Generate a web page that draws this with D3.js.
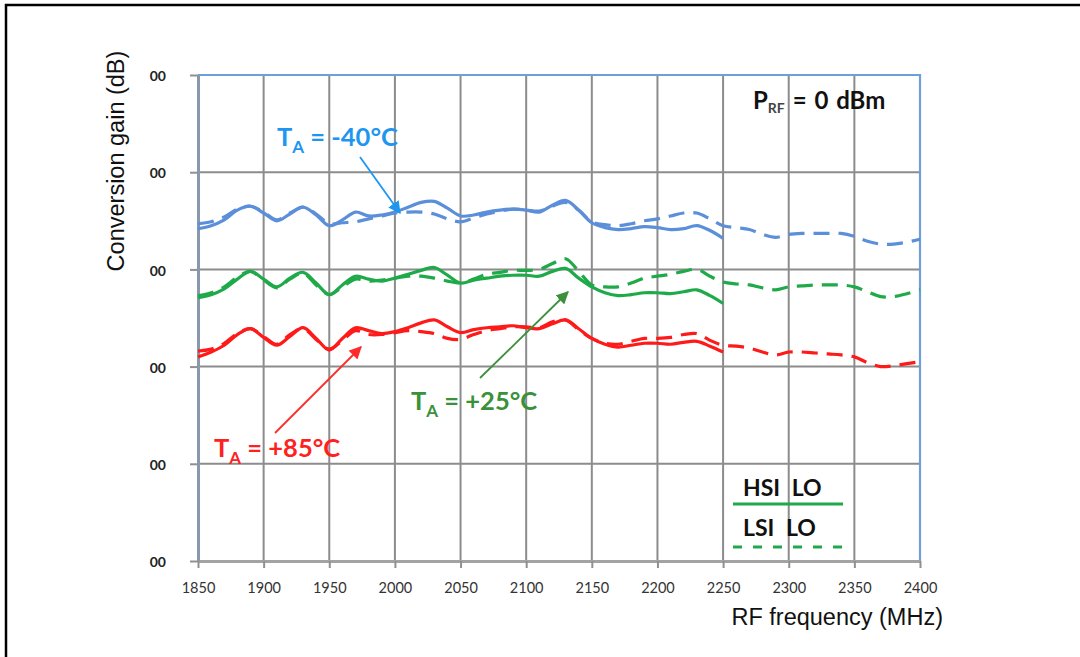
<!DOCTYPE html>
<html><head><meta charset="utf-8">
<script src="https://cdn.jsdelivr.net/npm/d3@7"></script>
<style>body{margin:0;background:#fff}svg{display:block}</style>
</head><body>
<svg id="c" width="1080" height="657"></svg>
<script>
// ---- data ----
const freqLSI = [1850,1860,1870,1880,1890,1900,1910,1920,1930,1940,1950,1960,1970,1980,1990,2000,2010,2020,2030,2040,2050,2060,2070,2080,2090,2100,2110,2120,2130,2140,2150,2160,2170,2180,2190,2200,2210,2220,2230,2240,2250,2260,2270,2280,2290,2300,2310,2320,2330,2340,2350,2360,2370,2380,2390,2400];
const freqHSI = [1850,1860,1870,1880,1890,1900,1910,1920,1930,1940,1950,1960,1970,1980,1990,2000,2010,2020,2030,2040,2050,2060,2070,2080,2090,2100,2110,2120,2130,2140,2150,2160,2170,2180,2190,2200,2210,2220,2230,2240,2250];

const blueHSI = [3.42,3.45,3.51,3.61,3.65,3.58,3.50,3.57,3.64,3.56,3.45,3.51,3.59,3.55,3.56,3.59,3.64,3.69,3.70,3.63,3.55,3.56,3.59,3.61,3.62,3.61,3.59,3.66,3.71,3.61,3.48,3.43,3.41,3.42,3.44,3.43,3.41,3.42,3.45,3.40,3.32];
const blueLSI = [3.47,3.49,3.54,3.62,3.65,3.59,3.51,3.58,3.64,3.57,3.47,3.48,3.49,3.52,3.55,3.58,3.59,3.59,3.57,3.52,3.49,3.53,3.57,3.60,3.62,3.61,3.60,3.65,3.69,3.61,3.49,3.46,3.45,3.47,3.50,3.52,3.55,3.58,3.58,3.52,3.45,3.43,3.41,3.36,3.33,3.36,3.37,3.37,3.37,3.37,3.34,3.29,3.26,3.26,3.28,3.31];
const greenHSI = [2.71,2.74,2.80,2.90,2.98,2.90,2.82,2.91,2.97,2.86,2.74,2.84,2.93,2.90,2.88,2.91,2.95,2.99,3.02,2.94,2.86,2.89,2.91,2.93,2.94,2.94,2.93,2.98,3.01,2.91,2.82,2.76,2.73,2.74,2.76,2.76,2.75,2.77,2.79,2.73,2.65];
const greenLSI = [2.73,2.76,2.82,2.92,2.98,2.89,2.81,2.90,2.96,2.84,2.74,2.82,2.90,2.88,2.89,2.91,2.93,2.93,2.91,2.88,2.86,2.90,2.95,2.97,2.99,2.99,3.00,3.06,3.11,2.98,2.84,2.82,2.82,2.86,2.91,2.93,2.95,2.98,3.00,2.93,2.87,2.85,2.84,2.81,2.79,2.82,2.83,2.84,2.84,2.84,2.82,2.77,2.72,2.72,2.75,2.79];
const redHSI = [2.10,2.15,2.22,2.33,2.39,2.30,2.22,2.31,2.40,2.29,2.17,2.29,2.40,2.37,2.34,2.36,2.40,2.45,2.48,2.41,2.35,2.38,2.40,2.41,2.42,2.40,2.39,2.44,2.48,2.39,2.29,2.23,2.20,2.22,2.24,2.24,2.23,2.25,2.26,2.21,2.15];
const redLSI = [2.16,2.18,2.24,2.34,2.39,2.31,2.23,2.33,2.39,2.28,2.18,2.27,2.37,2.33,2.33,2.35,2.37,2.36,2.34,2.29,2.28,2.33,2.37,2.39,2.41,2.41,2.40,2.46,2.48,2.38,2.29,2.24,2.23,2.26,2.29,2.29,2.30,2.33,2.34,2.27,2.22,2.21,2.19,2.15,2.12,2.15,2.15,2.14,2.13,2.12,2.10,2.04,2.00,2.01,2.03,2.05];

const xTicks = [1850,1900,1950,2000,2050,2100,2150,2200,2250,2300,2350,2400];
const yTicks = [0,1,2,3,4,5];
const yTickLabels = ["00","00","00","00","00","00"];

// ---- layout ----
const svg = d3.select("#c");
const L = 198, R = 920, T = 75, B = 561;
const x = d3.scaleLinear([1850, 2400], [L, R]);
const y = d3.scaleLinear([0, 5], [B, T]);
const CAL = "Lato, 'Open Sans', sans-serif";

// outer frame (top + left edges)
svg.append("path").attr("d", "M6,657V5H1080").attr("fill", "none").attr("stroke", "#000").attr("stroke-width", 2.5);

// gridlines
const grid = svg.append("g");
grid.selectAll("line.v").data(xTicks.slice(1, -1)).join("line")
  .attr("x1", d => x(d)).attr("x2", d => x(d)).attr("y1", T).attr("y2", B)
  .attr("stroke", "#8c8c8c").attr("stroke-width", 2);
grid.selectAll("line.h").data(yTicks.slice(1, -1)).join("line")
  .attr("x1", L).attr("x2", R).attr("y1", d => y(d)).attr("y2", d => y(d))
  .attr("stroke", "#8c8c8c").attr("stroke-width", 2);

// plot border top/right (blue)
svg.append("path").attr("d", `M${L},${y(5)}H${R}V${B}`).attr("fill", "none")
  .attr("stroke", "#6f9fd8").attr("stroke-width", 2.2);

// axes
const xAxis = svg.append("g").attr("transform", `translate(0,${B})`)
  .call(d3.axisBottom(x).tickValues(xTicks).tickSize(7).tickSizeOuter(0).tickFormat(d3.format("d")).tickPadding(15));
xAxis.select(".domain").attr("stroke", "#a3a3a3").attr("stroke-width", 3);
xAxis.selectAll(".tick line").attr("stroke", "#909090").attr("stroke-width", 2);
xAxis.selectAll(".tick text").attr("fill", "#333").attr("font-family", CAL).attr("font-size", 14.5);

const yAxis = svg.append("g").attr("transform", `translate(${L},0)`)
  .call(d3.axisLeft(y).tickValues(yTicks).tickSize(8).tickSizeOuter(0).tickFormat((d, i) => yTickLabels[i]).tickPadding(24));
yAxis.select(".domain").attr("stroke", "#8898ae").attr("stroke-width", 3);
yAxis.selectAll(".tick line").attr("stroke", "#909090").attr("stroke-width", 2);
yAxis.selectAll(".tick text").attr("fill", "#222").attr("font-family", CAL)
  .attr("font-weight", 700).attr("font-size", 14).attr("dy", "0.4em");

// axis titles
svg.append("text").attr("transform", "translate(124,161) rotate(-90)").attr("text-anchor", "middle")
  .attr("font-family", "'Liberation Sans', Arial, sans-serif").attr("font-size", 23.5).attr("fill", "#111")
  .text("Conversion gain (dB)");
svg.append("text").attr("x", 943).attr("y", 625).attr("text-anchor", "end")
  .attr("font-family", "'Liberation Sans', Arial, sans-serif").attr("font-size", 23.5).attr("fill", "#111")
  .text("RF frequency (MHz)");

// curves
const line = (fs, vs) => d3.line().x((d, i) => x(fs[i])).y(d => y(d)).curve(d3.curveCatmullRom.alpha(0.5))(vs);
const series = [
  {f: freqLSI, v: blueLSI, c: "#5b8fd9", dash: "16,9"},
  {f: freqLSI, v: greenLSI, c: "#1faa4a", dash: "16,9"},
  {f: freqLSI, v: redLSI, c: "#ff1a1a", dash: "16,9"},
  {f: freqHSI, v: blueHSI, c: "#5b8fd9", dash: null},
  {f: freqHSI, v: greenHSI, c: "#1faa4a", dash: null},
  {f: freqHSI, v: redHSI, c: "#ff1a1a", dash: null}
];
svg.append("g").selectAll("path").data(series).join("path")
  .attr("d", s => line(s.f, s.v)).attr("fill", "none")
  .attr("stroke", s => s.c).attr("stroke-width", 3.2)
  .attr("stroke-dasharray", s => s.dash).attr("stroke-linecap", "butt");

// arrow markers
const defs = svg.append("defs");
[["ab", "#1e96f0"], ["ar", "#ff2a2a"], ["ag", "#3a913a"]].forEach(([id, col]) => {
  defs.append("marker").attr("id", id).attr("viewBox", "0 0 10 10").attr("refX", 9).attr("refY", 5)
    .attr("markerWidth", 7).attr("markerHeight", 7).attr("orient", "auto")
    .append("path").attr("d", "M0,0L10,5L0,10z").attr("fill", col);
});
const arrows = [
  {x1: 360, y1: 157, x2: 400, y2: 213, c: "#1e96f0", m: "ab"},
  {x1: 275, y1: 433, x2: 361, y2: 347, c: "#ff2a2a", m: "ar"},
  {x1: 480, y1: 378, x2: 568, y2: 292, c: "#3a913a", m: "ag"}
];
svg.append("g").selectAll("line").data(arrows).join("line")
  .attr("x1", d => d.x1).attr("y1", d => d.y1).attr("x2", d => d.x2).attr("y2", d => d.y2)
  .attr("stroke", d => d.c).attr("stroke-width", 1.8).attr("marker-end", d => `url(#${d.m})`);

// temperature labels
const tLabels = [
  {x: 277, y: 146, t: " = -40°C", c: "#1e96f0"},
  {x: 411, y: 410, t: " = +25°C", c: "#3a913a"},
  {x: 214, y: 457, t: " = +85°C", c: "#ff2020"}
];
tLabels.forEach(d => {
  const tx = svg.append("text").attr("x", d.x).attr("y", d.y).attr("fill", d.c)
    .attr("font-family", CAL).attr("font-weight", 700).attr("font-size", 25.5);
  tx.append("tspan").text("T");
  tx.append("tspan").attr("dy", 7).attr("font-size", 17).text("A");
  tx.append("tspan").attr("dy", -7).text(d.t);
});

// P_RF label
const p = svg.append("text").attr("x", 753).attr("y", 109).attr("fill", "#111")
  .attr("font-family", CAL).attr("font-weight", 700).attr("font-size", 24).attr("word-spacing", 2);
p.append("tspan").text("P");
p.append("tspan").attr("dy", 4).attr("font-size", 14).attr("fill", "#444").text("RF");
p.append("tspan").attr("dy", -4).text(" = 0 dBm");

// legend
const lg = svg.append("g");
lg.append("text").attr("x", 743).attr("y", 496).attr("fill", "#111")
  .attr("font-family", CAL).attr("font-weight", 700).attr("font-size", 23).attr("word-spacing", 6).text("HSI LO");
lg.append("line").attr("x1", 733).attr("x2", 843).attr("y1", 504).attr("y2", 504)
  .attr("stroke", "#1faa4a").attr("stroke-width", 3);
lg.append("text").attr("x", 743).attr("y", 536).attr("fill", "#111")
  .attr("font-family", CAL).attr("font-weight", 700).attr("font-size", 23).attr("word-spacing", 6).text("LSI LO");
lg.append("line").attr("x1", 733).attr("x2", 843).attr("y1", 547).attr("y2", 547)
  .attr("stroke", "#1faa4a").attr("stroke-width", 3).attr("stroke-dasharray", "9,11");
</script>
</body></html>
